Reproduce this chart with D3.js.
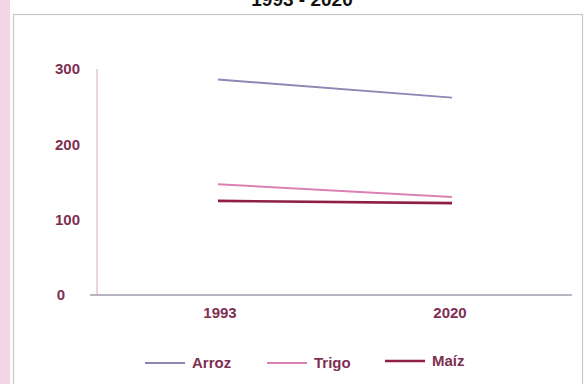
<!DOCTYPE html>
<html>
<head>
<meta charset="utf-8">
<script src="https://cdn.jsdelivr.net/npm/d3@7"></script>
<style>
  body { margin: 0; background: #fff; }
  svg { display: block; font-family: "Liberation Sans", Arial, sans-serif; }
</style>
</head>
<body>
<div id="chart"></div>
<script>
const width = 588, height = 384;

const years = ["1993", "2020"];
const arroz = [286, 262];
const trigo = [147, 130];
const maiz = [125, 122];
const yTicks = [0, 100, 200, 300];

const series = [
  { name: "Arroz", values: arroz, color: "#8f86b4" },
  { name: "Trigo", values: trigo, color: "#dc80b4" },
  { name: "Maíz", values: maiz, color: "#8e1f45" }
];

const svg = d3.select("#chart").append("svg")
  .attr("width", width)
  .attr("height", height);

// fondo / marco
svg.append("rect").attr("x", 0).attr("y", 0).attr("width", 10).attr("height", height)
  .attr("fill", "#f2d6e6");
svg.append("rect").attr("x", 13.5).attr("y", 14.5).attr("width", 569).attr("height", 380)
  .attr("fill", "#fff").attr("stroke", "#c8c8cc").attr("stroke-width", 1.2);

// título (cortado arriba, como en la foto)
svg.append("text")
  .attr("x", 302).attr("y", 6)
  .attr("text-anchor", "middle")
  .style("font-size", "19px").style("font-weight", "bold").attr("fill", "#111")
  .text("1993 - 2020");

const x = d3.scalePoint().domain(years).range([218, 452]);
const y = d3.scaleLinear().domain([0, 300]).range([295, 69]);

// eje Y
svg.append("line").attr("x1", 97).attr("x2", 97).attr("y1", y(300)).attr("y2", y(0))
  .attr("stroke", "#dba6be").attr("stroke-width", 1);
svg.selectAll(".ylab").data(yTicks).join("text")
  .attr("class", "ylab")
  .attr("x", d => d === 0 ? 65 : 80)
  .attr("y", d => y(d))
  .attr("dy", "0.35em")
  .attr("text-anchor", "end")
  .style("font-size", "15px").style("font-weight", "bold")
  .attr("fill", "#7e2f52")
  .text(d => d);

// eje X
svg.append("line").attr("x1", 90).attr("x2", 572).attr("y1", y(0)).attr("y2", y(0))
  .attr("stroke", "#9c9cae").attr("stroke-width", 1.3);
svg.selectAll(".xlab").data(years).join("text")
  .attr("class", "xlab")
  .attr("x", d => x(d) + (d === "1993" ? 2 : -2))
  .attr("y", 318)
  .attr("text-anchor", "middle")
  .style("font-size", "15px").style("font-weight", "bold")
  .attr("fill", "#7e2f52")
  .text(d => d);

// líneas
const line = d3.line().x((d, i) => x(years[i])).y(d => y(d));
svg.selectAll(".serie").data(series).join("path")
  .attr("class", "serie")
  .attr("d", d => line(d.values))
  .attr("fill", "none")
  .attr("stroke", d => d.color)
  .attr("stroke-width", d => d.name === "Maíz" ? 2.6 : 2);

// leyenda
const legX = [145, 267, 385];
const leg = svg.selectAll(".leg").data(series).join("g")
  .attr("class", "leg")
  .attr("transform", (d, i) => `translate(${legX[i]},${363 - (i === 2 ? 2 : 0)})`);
leg.append("line").attr("x1", 0).attr("x2", 40)
  .attr("stroke", d => d.color).attr("stroke-width", d => d.name === "Maíz" ? 2.6 : 2);
leg.append("text").attr("x", 47).attr("dy", "0.35em")
  .style("font-size", "15px").style("font-weight", "bold")
  .attr("fill", "#7e2f52")
  .text(d => d.name);
</script>
</body>
</html>
